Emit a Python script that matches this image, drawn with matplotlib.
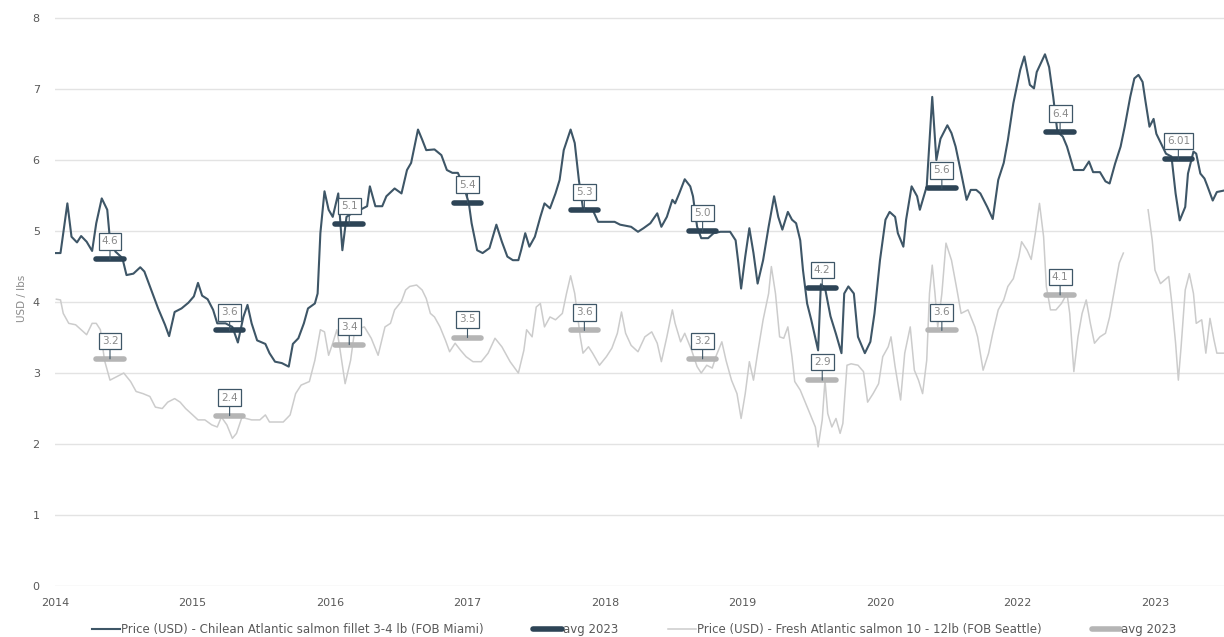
import numpy as np
import matplotlib
matplotlib.use("Agg")
import matplotlib.pyplot as plt

plt.rcParams['font.family'] = ['DejaVu Sans']

# x positions are in axis "years" (2014 = first tick); tick labels as printed on the chart
tick_pos = [2014, 2015, 2016, 2017, 2018, 2019, 2020, 2021, 2022]
tick_labels = ["2014", "2015", "2016", "2017", "2018", "2019", "2020", "2022", "2023"]

# Price (USD) - Chilean Atlantic salmon fillet 3-4 lb (FOB Miami)
miami_t = [0.00, 0.04, 0.09, 0.12, 0.16, 0.19, 0.23, 0.27, 0.30, 0.34, 0.38, 0.40, 0.44, 0.49,
           0.52, 0.57, 0.62, 0.65, 0.70, 0.75, 0.80, 0.83, 0.87, 0.92, 0.97, 1.01, 1.04, 1.07,
           1.11, 1.15, 1.18, 1.24, 1.29, 1.33, 1.37, 1.40, 1.43, 1.47, 1.53, 1.56, 1.60, 1.65,
           1.70, 1.73, 1.77, 1.81, 1.84, 1.89, 1.91, 1.93, 1.96, 1.99, 2.02, 2.06, 2.09, 2.12,
           2.16, 2.22, 2.27, 2.29, 2.33, 2.38, 2.41, 2.47, 2.52, 2.56, 2.59, 2.62, 2.64, 2.67,
           2.70, 2.76, 2.81, 2.85, 2.89, 2.93, 2.97, 3.01, 3.03, 3.07, 3.11, 3.16, 3.21, 3.25,
           3.29, 3.33, 3.37, 3.39, 3.42, 3.45, 3.49, 3.53, 3.56, 3.60, 3.64, 3.67, 3.70, 3.75,
           3.78, 3.81, 3.84, 3.91, 3.95, 4.07, 4.11, 4.19, 4.24, 4.28, 4.33, 4.38, 4.41, 4.45,
           4.49, 4.51, 4.54, 4.58, 4.62, 4.64, 4.67, 4.70, 4.75, 4.79, 4.84, 4.91, 4.95, 4.97,
           4.99, 5.02, 5.05, 5.08, 5.11, 5.15, 5.19, 5.23, 5.26, 5.29, 5.33, 5.36, 5.39, 5.42,
           5.44, 5.47, 5.50, 5.55, 5.57, 5.60, 5.64, 5.68, 5.72, 5.74, 5.77, 5.81, 5.84, 5.89,
           5.93, 5.96, 6.00, 6.04, 6.07, 6.11, 6.13, 6.17, 6.19, 6.23, 6.27, 6.29, 6.34, 6.38,
           6.41, 6.44, 6.49, 6.52, 6.55, 6.59, 6.63, 6.66, 6.70, 6.73, 6.78, 6.82, 6.86, 6.90,
           6.93, 6.97, 7.02, 7.05, 7.09, 7.12, 7.14, 7.20, 7.23, 7.26, 7.29, 7.33, 7.36, 7.41,
           7.48, 7.52, 7.55, 7.60, 7.64, 7.67, 7.71, 7.75, 7.78, 7.82, 7.85, 7.88, 7.91, 7.93,
           7.96, 7.99, 8.01, 8.08, 8.12, 8.15, 8.18, 8.22, 8.24, 8.28, 8.30, 8.33, 8.36, 8.38,
           8.42, 8.45, 8.50]
miami_price = [4.69, 4.69, 5.39, 4.92, 4.84, 4.93, 4.85, 4.72, 5.11, 5.46, 5.30, 4.87, 4.71, 4.62,
               4.38, 4.40, 4.49, 4.43, 4.17, 3.91, 3.68, 3.52, 3.86, 3.91, 3.99, 4.08, 4.27, 4.09,
               4.04, 3.89, 3.70, 3.70, 3.65, 3.43, 3.79, 3.96, 3.70, 3.46, 3.41, 3.28, 3.16, 3.14,
               3.09, 3.41, 3.49, 3.70, 3.91, 3.98, 4.12, 4.97, 5.56, 5.30, 5.20, 5.53, 4.73, 5.20,
               5.25, 5.30, 5.35, 5.63, 5.35, 5.35, 5.49, 5.60, 5.53, 5.86, 5.96, 6.24, 6.43, 6.29,
               6.14, 6.15, 6.07, 5.86, 5.82, 5.82, 5.65, 5.39, 5.11, 4.73, 4.69, 4.76, 5.09, 4.85,
               4.64, 4.59, 4.59, 4.73, 4.97, 4.78, 4.92, 5.20, 5.39, 5.32, 5.53, 5.72, 6.14, 6.43,
               6.24, 5.72, 5.32, 5.30, 5.13, 5.13, 5.09, 5.06, 4.99, 5.04, 5.11, 5.25, 5.06, 5.20,
               5.44, 5.39, 5.53, 5.73, 5.63, 5.49, 5.06, 4.90, 4.90, 4.97, 4.99, 4.99, 4.87, 4.55,
               4.19, 4.64, 5.04, 4.69, 4.26, 4.59, 5.06, 5.49, 5.20, 5.02, 5.27, 5.16, 5.11, 4.87,
               4.45, 3.98, 3.75, 3.32, 4.25, 4.20, 3.80, 3.55, 3.28, 4.12, 4.22, 4.12, 3.51, 3.28,
               3.44, 3.84, 4.59, 5.16, 5.27, 5.20, 4.97, 4.78, 5.16, 5.63, 5.49, 5.30, 5.63, 6.89,
               6.00, 6.30, 6.49, 6.38, 6.19, 5.82, 5.44, 5.58, 5.58, 5.53, 5.34, 5.17, 5.72, 5.96,
               6.28, 6.80, 7.27, 7.46, 7.06, 7.01, 7.24, 7.49, 7.31, 6.89, 6.40, 6.33, 6.19, 5.86,
               5.86, 5.98, 5.83, 5.83, 5.70, 5.67, 5.95, 6.19, 6.47, 6.89, 7.15, 7.20, 7.10, 6.84,
               6.47, 6.58, 6.37, 6.09, 6.05, 5.53, 5.15, 5.34, 5.81, 6.12, 6.09, 5.81, 5.74, 5.64,
               5.43, 5.55, 5.57]

# Price (USD) - Fresh Atlantic salmon 10 - 12lb (FOB Seattle); nan = gap in the series
seattle_t = [0.01, 0.04, 0.06, 0.10, 0.15, 0.19, 0.23, 0.27, 0.30, 0.33, 0.36, 0.40, 0.45, 0.50,
             0.55, 0.59, 0.64, 0.69, 0.73, 0.78, 0.82, 0.87, 0.91, 0.95, 0.99, 1.04, 1.09, 1.14,
             1.18, 1.21, 1.25, 1.29, 1.32, 1.36, 1.39, 1.43, 1.49, 1.53, 1.56, 1.62, 1.66, 1.71,
             1.75, 1.79, 1.85, 1.89, 1.93, 1.96, 1.99, 2.02, 2.05, 2.07, 2.11, 2.15, 2.18, 2.25,
             2.30, 2.35, 2.40, 2.44, 2.47, 2.52, 2.55, 2.58, 2.63, 2.67, 2.70, 2.73, 2.76, 2.80,
             2.84, 2.87, 2.91, 2.95, 2.99, 3.04, 3.10, 3.15, 3.20, 3.25, 3.31, 3.37, 3.41, 3.43,
             3.47, 3.50, 3.53, 3.56, 3.60, 3.64, 3.69, 3.72, 3.75, 3.78, 3.82, 3.84, 3.88, 3.91,
             3.96, 4.01, 4.05, 4.09, 4.12, 4.15, 4.19, 4.24, 4.29, 4.34, 4.38, 4.41, 4.45, 4.49,
             4.51, 4.55, 4.58, 4.63, 4.67, 4.70, 4.74, 4.78, 4.81, 4.85, 4.88, 4.92, 4.96, 4.99,
             5.02, 5.05, 5.08, 5.11, 5.15, 5.19, 5.21, 5.24, 5.27, 5.30, 5.33, 5.36, 5.38, 5.42,
             5.45, 5.49, 5.53, 5.55, 5.58, 5.60, 5.62, 5.65, 5.68, 5.71, 5.73, 5.76, 5.79, 5.84,
             5.88, 5.91, 5.95, 5.99, 6.02, 6.06, 6.08, 6.11, 6.15, 6.18, 6.22, 6.25, 6.28, 6.31,
             6.34, 6.36, 6.38, 6.40, 6.42, 6.45, 6.48, 6.52, 6.56, 6.59, 6.64, 6.69, 6.71, 6.75,
             6.79, 6.82, 6.86, 6.90, 6.93, 6.97, 7.01, 7.03, 7.07, 7.10, 7.13, 7.16, 7.19, 7.21,
             7.24, 7.28, 7.32, 7.36, 7.38, 7.41, 7.44, 7.47, 7.50, 7.53, 7.56, 7.60, 7.64, 7.67,
             7.71, 7.74, 7.77, 7.80, 7.95, 7.98, 8.00, 8.04, 8.07, 8.10, 8.12, 8.15, 8.17, 8.19,
             8.22, 8.25, 8.28, 8.30, 8.34, 8.37, 8.40, 8.43, 8.45, 8.50]
seattle_price = [4.04, 4.03, 3.84, 3.70, 3.68, 3.61, 3.54, 3.70, 3.70, 3.61, 3.18, 2.90, 2.95, 3.00,
                 2.88, 2.74, 2.71, 2.67, 2.52, 2.50, 2.59, 2.64, 2.59, 2.50, 2.43, 2.34, 2.34, 2.27,
                 2.24, 2.38, 2.27, 2.08, 2.15, 2.38, 2.36, 2.34, 2.34, 2.41, 2.31, 2.31, 2.31, 2.41,
                 2.71, 2.83, 2.88, 3.18, 3.61, 3.58, 3.25, 3.42, 3.61, 3.37, 2.85, 3.18, 3.61, 3.65,
                 3.49, 3.25, 3.65, 3.70, 3.89, 4.01, 4.17, 4.22, 4.24, 4.17, 4.05, 3.84, 3.79, 3.65,
                 3.46, 3.30, 3.42, 3.32, 3.23, 3.16, 3.16, 3.28, 3.49, 3.37, 3.16, 3.00, 3.32, 3.61,
                 3.51, 3.93, 3.98, 3.65, 3.79, 3.75, 3.84, 4.12, 4.37, 4.12, 3.51, 3.28, 3.37, 3.28,
                 3.11, 3.23, 3.35, 3.56, 3.86, 3.56, 3.39, 3.30, 3.51, 3.58, 3.42, 3.16, 3.51, 3.89,
                 3.70, 3.44, 3.56, 3.32, 3.09, 3.00, 3.11, 3.07, 3.25, 3.44, 3.18, 2.90, 2.71, 2.36,
                 2.71, 3.16, 2.90, 3.28, 3.75, 4.12, 4.50, 4.12, 3.51, 3.49, 3.65, 3.23, 2.88, 2.76,
                 2.62, 2.43, 2.24, 1.96, 2.34, 2.90, 2.43, 2.24, 2.36, 2.15, 2.29, 3.11, 3.13, 3.11,
                 3.02, 2.59, 2.71, 2.85, 3.23, 3.37, 3.51, 3.09, 2.62, 3.28, 3.65, 3.04, 2.90, 2.71,
                 3.18, 4.12, 4.52, 4.12, 3.65, 4.12, 4.83, 4.59, 4.17, 3.84, 3.89, 3.65, 3.51, 3.04,
                 3.28, 3.56, 3.89, 4.03, 4.22, 4.33, 4.64, 4.85, 4.73, 4.60, 4.97, 5.39, 4.92, 4.22,
                 3.89, 3.89, 3.98, 4.12, 3.84, 3.02, 3.51, 3.84, 4.03, 3.70, 3.42, 3.51, 3.56, 3.79,
                 4.22, 4.55, 4.69, np.nan, 5.30, 4.87, 4.45, 4.26, 4.31, 4.36, 4.03, 3.42, 2.90, 3.37,
                 4.17, 4.40, 4.12, 3.70, 3.75, 3.28, 3.77, 3.46, 3.28, 3.28]

# yearly average markers
avg_t = [0.40, 1.27, 2.14, 3.00, 3.85, 4.71, 5.58, 6.45, 7.31, 8.17]
miami_avg = [4.6, 3.6, 5.1, 5.4, 5.3, 5.0, 4.2, 5.6, 6.4, 6.01]
miami_avg_text = ["4.6", "3.6", "5.1", "5.4", "5.3", "5.0", "4.2", "5.6", "6.4", "6.01"]
seattle_avg = [3.2, 2.4, 3.4, 3.5, 3.6, 3.2, 2.9, 3.6, 4.1]
seattle_avg_text = ["3.2", "2.4", "3.4", "3.5", "3.6", "3.2", "2.9", "3.6", "4.1"]

dark = "#3e5667"
dark_avg = "#2d4456"
light = "#cccccc"
light_avg = "#b5b5b5"
txt = "#8a8a8a"

fig = plt.figure(figsize=(12.24, 6.37), dpi=100)
ax = fig.add_axes([55 / 1224, 1 - 586 / 637, 1169 / 1224, 575 / 637])

x0 = tick_pos[0]
ax.plot(x0 + np.array(miami_t), miami_price, color=dark, lw=1.5, zorder=3,
        label="Price (USD) - Chilean Atlantic salmon fillet 3-4 lb (FOB Miami)")
ax.plot(x0 + np.array(seattle_t), seattle_price, color=light, lw=1.1, zorder=2,
        label="Price (USD) - Fresh Atlantic salmon 10 - 12lb (FOB Seattle)")

half = 0.1


def avg_marks(ts, vals, texts, color, label):
    for i, (t, v, s) in enumerate(zip(ts, vals, texts)):
        ax.plot([x0 + t - half, x0 + t + half], [v, v], color=color, lw=4.0,
                solid_capstyle="round", zorder=4, label=label if i == 0 else None)
        ax.annotate(s, xy=(x0 + t, v), xytext=(0, 13), textcoords="offset points",
                    ha="center", va="center", fontsize=7.5, color=txt, zorder=6,
                    bbox=dict(boxstyle="square,pad=0.3", fc="white", ec=dark, lw=0.9),
                    arrowprops=dict(arrowstyle="-", color=dark, lw=0.8, shrinkA=0, shrinkB=0))


avg_marks(avg_t, miami_avg, miami_avg_text, dark_avg, "avg 2023")
avg_marks(avg_t[:len(seattle_avg)], seattle_avg, seattle_avg_text, light_avg, "avg 2023")

ax.set_xlim(x0, x0 + 8.502)
ax.set_ylim(0, 8.1)
ax.set_yticks(range(0, 9))
ax.set_xticks(tick_pos)
ax.set_xticklabels(tick_labels)
ax.grid(axis="y", color="#e3e3e3", lw=1.0)
ax.set_axisbelow(True)
for s in ax.spines.values():
    s.set_visible(False)
ax.tick_params(length=0, labelsize=8, labelcolor="#595959")
ax.tick_params(axis="y", pad=11)
ax.tick_params(axis="x", pad=9)
ax.set_ylabel("USD / lbs", fontsize=7.5, color="#8a8a8a", labelpad=4)

h, l = ax.get_legend_handles_labels()
order = [0, 2, 1, 3]
fig.legend([h[i] for i in order], [l[i] for i in order], loc="center", ncol=4,
           bbox_to_anchor=(0.518, 0.012), frameon=False, fontsize=8.5, handlelength=2.4,
           handletextpad=0.1, columnspacing=4.2, labelcolor="#595959")

fig.savefig("out.png", dpi=100)
